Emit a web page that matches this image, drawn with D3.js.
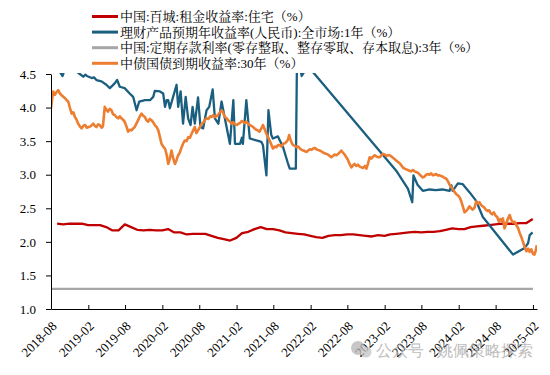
<!DOCTYPE html>
<html>
<head>
<meta charset="utf-8">
<script src="https://cdn.jsdelivr.net/npm/d3@7"></script>
<style>
  body { margin: 0; background: #fff; }
  .graph text { font-family: 'Liberation Serif', 'Times New Roman', serif; }
  .legend text { font-family: 'Liberation Serif', 'Noto Serif CJK SC', 'Noto Sans CJK SC', serif; }
</style>
</head>
<body>
<div class="graph"><svg></svg></div>
<script>
const SERIES_NAMES = [
  '中国:百城:租金收益率:住宅（%）',
  '理财产品预期年收益率(人民币):全市场:1年（%）',
  '中国:定期存款利率(零存整取、整存零取、存本取息):3年（%）',
  '中债国债到期收益率:30年（%）'
]
const SERIES_COLORS = ['#c00000', '#1b5f80', '#a6a6a6', '#ed7d31']

const X_TICKS = ['2018-08', '2019-02', '2019-08', '2020-02', '2020-08', '2021-02', '2021-08',
  '2022-02', '2022-08', '2023-02', '2023-08', '2024-02', '2024-08', '2025-02']
const Y_TICKS = [1.0, 1.5, 2.0, 2.5, 3.0, 3.5, 4.0, 4.5]
const X_DOMAIN = ['2018-08-01', '2025-02-21']

// monthly, first value is end of 2018-08
const rentStart = '2018-08'
const rentYield = [2.27, 2.26, 2.27, 2.27, 2.27, 2.25, 2.25, 2.25, 2.22, 2.17, 2.17, 2.26, 2.22, 2.18,
  2.17, 2.18, 2.17, 2.17, 2.19, 2.14, 2.14, 2.11, 2.12, 2.12, 2.12, 2.09, 2.06, 2.04, 2.02, 2.06,
  2.13, 2.15, 2.19, 2.22, 2.19, 2.19, 2.17, 2.14, 2.13, 2.12, 2.11, 2.09, 2.07, 2.06, 2.09, 2.10,
  2.10, 2.11, 2.11, 2.10, 2.09, 2.08, 2.10, 2.09, 2.11, 2.12, 2.13, 2.14, 2.15, 2.14, 2.15, 2.15,
  2.16, 2.18, 2.20, 2.19, 2.19, 2.22, 2.23, 2.24, 2.25, 2.26, 2.27, 2.27, 2.27, 2.28, 2.28, 2.34]

const wmpDates = ['2018-08-01', '2018-08-30', '2018-09-27', '2018-10-13', '2018-11-17', '2018-12-21',
  '2019-01-07', '2019-01-18', '2019-01-25', '2019-02-18', '2019-03-01', '2019-03-13', '2019-04-07',
  '2019-05-01', '2019-05-18', '2019-06-01', '2019-06-11', '2019-06-23', '2019-07-06', '2019-07-30',
  '2019-08-24', '2019-09-10', '2019-09-27', '2019-10-10', '2019-11-07', '2019-12-02', '2019-12-18',
  '2019-12-26', '2020-01-20', '2020-02-05', '2020-02-14', '2020-02-22', '2020-03-01', '2020-03-09',
  '2020-03-25', '2020-04-11', '2020-04-19', '2020-05-01', '2020-05-13', '2020-05-26', '2020-06-07',
  '2020-06-19', '2020-06-29', '2020-07-10', '2020-07-26', '2020-08-07', '2020-08-20', '2020-09-06',
  '2020-09-19', '2020-10-06', '2020-10-17', '2020-11-03', '2020-11-19', '2020-12-05', '2020-12-30',
  '2021-01-16', '2021-01-24', '2021-02-18', '2021-02-27', '2021-03-04', '2021-03-21', '2021-04-07',
  '2021-05-10', '2021-06-03', '2021-06-11', '2021-06-28', '2021-07-08', '2021-07-22', '2021-07-30',
  '2021-08-24', '2021-09-18', '2021-10-13', '2021-10-21', '2021-11-20', '2021-11-26', '2021-12-19',
  '2022-01-18', '2023-03-30', '2023-05-27', '2023-06-17', '2023-06-23', '2023-07-13', '2023-08-08',
  '2023-09-10', '2023-10-10', '2023-11-13', '2023-12-18', '2023-12-27', '2024-01-02', '2024-01-28',
  '2024-02-20', '2024-03-25', '2024-04-27', '2024-05-30', '2024-10-26', '2024-12-22', '2025-01-08',
  '2025-01-16', '2025-01-30']
const wmpYield = [4.65, 4.60, 4.47, 4.62, 4.58, 4.50,
  4.46, 4.49, 4.47, 4.44, 4.45, 4.41, 4.39,
  4.34, 4.29, 4.33, 4.36, 4.41, 4.31, 4.29,
  4.21, 4.16, 3.96, 4.09, 4.11, 4.11, 4.16,
  4.25, 4.24, 4.21, 4.01, 4.11, 4.11, 3.99,
  4.16, 4.34, 4.01, 4.24, 3.76, 4.16, 3.84,
  3.74, 4.01, 3.76, 4.15, 3.71, 3.69, 3.96,
  4.01, 4.27, 3.84, 3.76, 4.09, 3.84, 3.46,
  4.11, 3.46, 3.46, 3.55, 3.46, 4.11, 3.54,
  3.51, 3.49, 3.44, 2.99, 3.96, 3.59, 3.54,
  3.57, 3.41, 3.16, 3.09, 3.09, 4.80, 4.47,
  4.62, 3.06, 2.79, 2.59, 2.99, 2.85, 2.76,
  2.78, 2.77, 2.78, 2.76, 2.84, 2.76, 2.87,
  2.86, 2.74, 2.61, 2.37, 1.81, 1.91, 1.98,
  2.10, 2.14]

const depositDates = ['2018-08-01', '2025-02-01']
const depositRate = [1.3, 1.3]

const bondDates = ['2018-08-01', '2018-08-06', '2018-08-12', '2018-08-20', '2018-08-28', '2018-09-06',
  '2018-09-14', '2018-09-24', '2018-10-09', '2018-10-17', '2018-10-25', '2018-11-02', '2018-11-11',
  '2018-11-19', '2018-11-27', '2018-12-05', '2018-12-13', '2018-12-21', '2018-12-30', '2019-01-08',
  '2019-01-16', '2019-01-25', '2019-02-02', '2019-02-12', '2019-02-25', '2019-03-05', '2019-03-13',
  '2019-03-21', '2019-03-29', '2019-04-08', '2019-04-14', '2019-04-23', '2019-05-01', '2019-05-09',
  '2019-05-17', '2019-05-26', '2019-06-03', '2019-06-11', '2019-06-19', '2019-06-28', '2019-07-06',
  '2019-07-14', '2019-07-22', '2019-07-30', '2019-08-08', '2019-08-16', '2019-08-24', '2019-09-02',
  '2019-09-10', '2019-09-18', '2019-09-26', '2019-10-04', '2019-10-12', '2019-10-21', '2019-10-29',
  '2019-11-07', '2019-11-15', '2019-11-23', '2019-12-01', '2019-12-10', '2019-12-18', '2019-12-26',
  '2020-01-04', '2020-01-12', '2020-01-20', '2020-01-28', '2020-02-05', '2020-02-14', '2020-02-22',
  '2020-03-01', '2020-03-09', '2020-03-17', '2020-03-25', '2020-04-03', '2020-04-11', '2020-04-19',
  '2020-04-27', '2020-05-06', '2020-05-14', '2020-05-22', '2020-05-30', '2020-06-08', '2020-06-16',
  '2020-06-24', '2020-07-02', '2020-07-10', '2020-07-18', '2020-07-26', '2020-08-04', '2020-08-13',
  '2020-08-22', '2020-08-30', '2020-09-06', '2020-09-15', '2020-09-24', '2020-10-01', '2020-10-09',
  '2020-10-17', '2020-10-25', '2020-11-03', '2020-11-11', '2020-11-19', '2020-11-27', '2020-12-05',
  '2020-12-14', '2020-12-22', '2020-12-30', '2021-01-08', '2021-01-16', '2021-01-24', '2021-02-02',
  '2021-02-10', '2021-02-18', '2021-02-26', '2021-03-04', '2021-03-12', '2021-03-21', '2021-03-29',
  '2021-04-06', '2021-04-14', '2021-04-23', '2021-05-01', '2021-05-09', '2021-05-17', '2021-05-25',
  '2021-06-03', '2021-06-11', '2021-06-19', '2021-06-28', '2021-07-06', '2021-07-14', '2021-07-22',
  '2021-07-30', '2021-08-08', '2021-08-16', '2021-08-24', '2021-09-02', '2021-09-10', '2021-09-18',
  '2021-09-27', '2021-10-05', '2021-10-12', '2021-10-18', '2021-10-26', '2021-11-02', '2021-11-07',
  '2021-11-15', '2021-11-24', '2021-12-02', '2021-12-10', '2021-12-18', '2021-12-27', '2022-01-04',
  '2022-01-12', '2022-01-20', '2022-01-28', '2022-02-06', '2022-02-14', '2022-02-22', '2022-03-01',
  '2022-03-09', '2022-03-17', '2022-03-25', '2022-04-03', '2022-04-11', '2022-04-19', '2022-04-27',
  '2022-05-06', '2022-05-14', '2022-05-22', '2022-05-30', '2022-06-08', '2022-06-16', '2022-06-24',
  '2022-07-02', '2022-07-10', '2022-07-19', '2022-07-27', '2022-08-04', '2022-08-12', '2022-08-21',
  '2022-08-29', '2022-09-06', '2022-09-14', '2022-09-22', '2022-10-01', '2022-10-09', '2022-10-18',
  '2022-10-26', '2022-11-03', '2022-11-11', '2022-11-19', '2022-11-27', '2022-12-06', '2022-12-14',
  '2022-12-22', '2022-12-31', '2023-01-08', '2023-01-16', '2023-01-24', '2023-02-01', '2023-02-10',
  '2023-02-18', '2023-02-26', '2023-03-07', '2023-03-15', '2023-03-23', '2023-03-30', '2023-04-08',
  '2023-04-16', '2023-04-24', '2023-05-01', '2023-05-10', '2023-05-18', '2023-05-26', '2023-06-03',
  '2023-06-11', '2023-06-20', '2023-06-28', '2023-07-06', '2023-07-14', '2023-07-22', '2023-07-31',
  '2023-08-08', '2023-08-16', '2023-08-25', '2023-09-02', '2023-09-10', '2023-09-18', '2023-09-27',
  '2023-10-05', '2023-10-13', '2023-10-21', '2023-10-30', '2023-11-07', '2023-11-15', '2023-11-24',
  '2023-12-02', '2023-12-10', '2023-12-18', '2023-12-27', '2024-01-04', '2024-01-12', '2024-01-20',
  '2024-01-29', '2024-02-06', '2024-02-14', '2024-02-22', '2024-03-01', '2024-03-09', '2024-03-17',
  '2024-03-25', '2024-04-02', '2024-04-10', '2024-04-19', '2024-04-27', '2024-05-05', '2024-05-13',
  '2024-05-21', '2024-05-29', '2024-06-06', '2024-06-14', '2024-06-22', '2024-06-30', '2024-07-07',
  '2024-07-15', '2024-07-23', '2024-08-01', '2024-08-09', '2024-08-17', '2024-08-25', '2024-09-01',
  '2024-09-06', '2024-09-14', '2024-09-22', '2024-09-30', '2024-10-09', '2024-10-17', '2024-10-25',
  '2024-11-03', '2024-11-11', '2024-11-19', '2024-11-28', '2024-12-06', '2024-12-14', '2024-12-22',
  '2024-12-31', '2025-01-08', '2025-01-16', '2025-01-24', '2025-02-01', '2025-02-08', '2025-02-14',
  '2025-02-20']
const bondYield = [3.99, 4.12, 4.24, 4.19, 4.23, 4.26,
  4.21, 4.18, 4.14, 4.11, 4.09, 4.00, 3.91,
  3.93, 3.86, 3.82, 3.76, 3.72, 3.69, 3.73,
  3.74, 3.70, 3.71, 3.72, 3.76, 3.73, 3.71,
  3.75, 3.74, 3.70, 3.72, 4.01, 3.97, 3.94,
  3.98, 3.96, 3.90, 3.89, 3.86, 3.84, 3.87,
  3.84, 3.82, 3.79, 3.72, 3.64, 3.67, 3.66,
  3.69, 3.71, 3.76, 3.81, 3.86, 3.91, 3.88,
  3.86, 3.81, 3.79, 3.83, 3.81, 3.78, 3.74,
  3.71, 3.66, 3.56, 3.46, 3.42, 3.39, 3.30,
  3.16, 3.24, 3.36, 3.25, 3.16, 3.22, 3.29,
  3.33, 3.41, 3.47, 3.51, 3.50, 3.56, 3.55,
  3.61, 3.66, 3.71, 3.62, 3.66, 3.71, 3.76,
  3.78, 3.82, 3.84, 3.83, 3.87, 3.86, 3.89,
  3.86, 3.87, 3.90, 3.93, 3.96, 3.92, 3.86,
  3.84, 3.81, 3.79, 3.76, 3.78, 3.75, 3.74,
  3.76, 3.77, 3.80, 3.79, 3.77, 3.79, 3.76,
  3.74, 3.73, 3.71, 3.69, 3.67, 3.66, 3.64,
  3.69, 3.74, 3.68, 3.61, 3.56, 3.51, 3.45,
  3.39, 3.42, 3.41, 3.44, 3.44, 3.42, 3.46,
  3.47, 3.49, 3.52, 3.59, 3.51, 3.46, 3.44,
  3.43, 3.41, 3.42, 3.39, 3.37, 3.36, 3.35,
  3.34, 3.36, 3.38, 3.37, 3.39, 3.40, 3.38,
  3.37, 3.36, 3.35, 3.33, 3.32, 3.31, 3.30,
  3.28, 3.26, 3.28, 3.30, 3.29, 3.31, 3.33,
  3.36, 3.33, 3.30, 3.26, 3.22, 3.16, 3.11,
  3.14, 3.16, 3.13, 3.15, 3.12, 3.11, 3.10,
  3.13, 3.09, 3.17, 3.26, 3.24, 3.27, 3.29,
  3.27, 3.26, 3.26, 3.29, 3.31, 3.30, 3.28,
  3.29, 3.29, 3.27, 3.25, 3.23, 3.21, 3.19,
  3.17, 3.14, 3.11, 3.09, 3.08, 3.07, 3.06,
  3.05, 3.07, 3.05, 3.04, 3.03, 3.01, 2.98,
  2.96, 2.97, 3.00, 3.01, 3.00, 3.02, 2.99,
  3.00, 3.01, 2.99, 2.99, 2.98, 2.97, 2.95,
  2.94, 2.90, 2.85, 2.81, 2.78, 2.74, 2.71,
  2.69, 2.66, 2.60, 2.52, 2.44, 2.46, 2.49,
  2.53, 2.50, 2.48, 2.51, 2.60, 2.57, 2.59,
  2.55, 2.53, 2.51, 2.48, 2.46, 2.47, 2.43,
  2.41, 2.44, 2.39, 2.37, 2.30, 2.34, 2.31,
  2.35, 2.20, 2.27, 2.34, 2.40, 2.33, 2.29,
  2.30, 2.25, 2.21, 2.13, 2.07, 2.00, 1.92,
  1.86, 1.90, 1.85, 1.89, 1.82, 1.81, 1.86,
  1.95]

const WIDTH = 550
const HEIGHT = 375
const margin = { top: 74, right: 13, bottom: 66, left: 51 }

const parseDay = d3.timeParse('%Y-%m-%d')
const parseMonth = d3.timeParse('%Y-%m')

/**
 * Zips a list of date strings with a list of values.
 *
 * @param {string[]} dates The dates, as yyyy-mm-dd
 * @param {number[]} values The values
 * @returns {object[]} The points of the line
 */
function toPoints (dates, values) {
  return dates.map((d, i) => ({ date: parseDay(d), value: values[i] }))
}

/**
 * Builds the monthly rent series, each value dated at the end of its month.
 *
 * @returns {object[]} The points of the line
 */
function rentPoints () {
  const start = parseMonth(rentStart)
  return rentYield.map((v, i) => ({
    date: d3.timeDay.offset(d3.timeMonth.offset(start, i + 1), -1),
    value: v
  }))
}

const series = [
  rentPoints(),
  toPoints(wmpDates, wmpYield),
  toPoints(depositDates, depositRate),
  toPoints(bondDates, bondYield)
]

const svg = d3.select('.graph').select('svg')
  .attr('width', WIDTH)
  .attr('height', HEIGHT)

const xScale = d3.scaleTime()
  .domain(X_DOMAIN.map(parseDay))
  .range([margin.left, WIDTH - margin.right])

const yScale = d3.scaleLinear()
  .domain([1, 4.5])
  .range([HEIGHT - margin.bottom, margin.top])

/**
 * Draws the y axis with outward ticks.
 */
function drawYAxis () {
  const g = svg.append('g')
    .attr('class', 'y axis')
    .attr('transform', 'translate(' + margin.left + ',0)')
    .call(d3.axisLeft(yScale)
      .tickValues(Y_TICKS)
      .tickFormat(d3.format('.1f'))
      .tickSizeInner(5)
      .tickSizeOuter(0)
      .tickPadding(10))

  g.select('.domain').attr('stroke', '#000')
  g.selectAll('line').attr('stroke', '#000')
  g.selectAll('text')
    .attr('font-size', 13)
    .attr('fill', '#000')
}

/**
 * Draws the x axis with inward ticks and slanted labels.
 */
function drawXAxis () {
  const g = svg.append('g')
    .attr('class', 'x axis')
    .attr('transform', 'translate(0,' + (HEIGHT - margin.bottom) + ')')
    .call(d3.axisBottom(xScale)
      .tickValues(X_TICKS.map(parseMonth))
      .tickFormat(d3.timeFormat('%Y-%m'))
      .tickSizeInner(-4)
      .tickSizeOuter(0))

  g.select('.domain').attr('stroke', '#000')
  g.selectAll('line').attr('stroke', '#000')
  g.selectAll('text')
    .attr('font-size', 13)
    .attr('fill', '#000')
    .attr('text-anchor', 'end')
    .attr('x', 0)
    .attr('y', 0)
    .attr('dy', 0)
    .attr('transform', 'translate(6,18) rotate(-45)')
}

/**
 * Draws the four lines, clipped to the plot area.
 */
function drawLines () {
  svg.append('clipPath')
    .attr('id', 'plot-clip')
    .append('rect')
    .attr('x', margin.left)
    .attr('y', yScale(4.5) - 1)
    .attr('width', WIDTH - margin.right - margin.left)
    .attr('height', yScale(1) - yScale(4.5) + 1)

  const line = d3.line()
    .x(d => xScale(d.date))
    .y(d => yScale(d.value))

  const order = [2, 0, 1, 3]
  svg.append('g')
    .attr('clip-path', 'url(#plot-clip)')
    .selectAll('path')
    .data(order)
    .join('path')
    .attr('d', i => line(series[i]))
    .attr('fill', 'none')
    .attr('stroke', i => SERIES_COLORS[i])
    .attr('stroke-width', i => i === 3 ? 2.6 : 2.3)
    .attr('stroke-linejoin', 'round')
}

/**
 * Draws the legend above the plot, one row per series.
 */
function drawLegend () {
  const rows = svg.append('g')
    .attr('class', 'legend')
    .selectAll('g')
    .data(SERIES_NAMES)
    .join('g')
    .attr('transform', (d, i) => 'translate(92,' + (16.5 + i * 15.6) + ')')

  rows.append('line')
    .attr('x1', 0)
    .attr('x2', 26)
    .attr('stroke', (d, i) => SERIES_COLORS[i])
    .attr('stroke-width', 3)

  rows.append('text')
    .text(d => d)
    .attr('x', 28)
    .attr('dy', '0.35em')
    .attr('font-size', 13)
    .attr('fill', '#000')
}

/**
 * Draws the faint account watermark in the lower right corner.
 */
function drawWatermark () {
  const g = svg.append('g')
    .attr('opacity', 0.75)

  g.append('circle').attr('cx', 358).attr('cy', 348).attr('r', 7).attr('fill', '#b5b5b5')
  g.append('circle').attr('cx', 366).attr('cy', 352).attr('r', 5.5).attr('fill', '#c4c4c4')

  g.append('text')
    .text('公众号 · 姚佩策略探索')
    .attr('x', 376)
    .attr('y', 356)
    .attr('font-family', "'Noto Sans CJK SC', sans-serif")
    .attr('font-size', 15.5)
    .attr('fill', '#a8a8a8')
}

drawLines()
drawYAxis()
drawXAxis()
drawLegend()
drawWatermark()
</script>
</body>
</html>
